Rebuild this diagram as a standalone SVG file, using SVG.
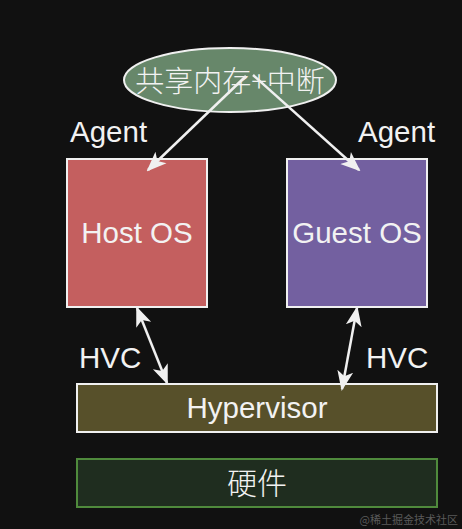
<svg xmlns="http://www.w3.org/2000/svg" width="462" height="529" viewBox="0 0 462 529">
<defs>
<style>
.t{font-family:"Liberation Sans",Arial,"Noto Sans CJK SC",sans-serif;fill:#f2f2f2;font-size:29.5px}
.cjk{font-family:"Noto Sans CJK SC",sans-serif;font-weight:300}
.c{text-anchor:middle}
.box{stroke:#f0f0f0;stroke-width:2}
.ln{stroke:#f0f0f0;stroke-width:2.5;fill:none}
</style>
<marker id="ah2" viewBox="0 0 20 20" refX="18" refY="10" markerWidth="20" markerHeight="20" markerUnits="userSpaceOnUse" orient="auto-start-reverse">
<path d="M0,2 L20,10 L0,18 L5,10 Z" fill="#f0f0f0"/>
</marker>
</defs>
<rect width="462" height="529" fill="#111111"/>
<g id="shared">
<ellipse cx="230" cy="80" rx="106" ry="32" fill="#67876a" stroke="#f0f0f0" stroke-width="2"/>
<text class="t c cjk" x="230" y="92" style="font-size:29px">共享内存+中断</text>
</g>
<g id="host">
<rect class="box" x="67" y="159" width="140" height="148" fill="#c45f5f"/>
<text class="t c" x="137" y="243">Host OS</text>
</g>
<g id="guest">
<rect class="box" x="287" y="159" width="140" height="148" fill="#7360a0"/>
<text class="t c" x="357" y="243">Guest OS</text>
</g>
<g id="hypervisor">
<rect class="box" x="77" y="384" width="360" height="48" fill="#57502a"/>
<text class="t c" x="257" y="418">Hypervisor</text>
</g>
<g id="hardware">
<rect x="77" y="459" width="360" height="48" fill="#1f2d1f" stroke="#4f8a3c" stroke-width="2"/>
<text class="t c cjk" x="257" y="494" style="font-size:30px">硬件</text>
</g>
<g id="labels">
<text class="t" x="70" y="142">Agent</text>
<text class="t" x="358" y="142">Agent</text>
<text class="t" x="79" y="368">HVC</text>
<text class="t" x="366" y="368">HVC</text>
</g>
<g id="connectors">
<line class="ln" x1="246" y1="76" x2="148" y2="170" marker-end="url(#ah2)"/>
<line class="ln" x1="253" y1="75" x2="359" y2="170" marker-end="url(#ah2)"/>
<line class="ln" x1="137" y1="308" x2="167" y2="383" marker-start="url(#ah2)" marker-end="url(#ah2)"/>
<line class="ln" x1="357" y1="308" x2="342" y2="389" marker-start="url(#ah2)" marker-end="url(#ah2)"/>
</g>
<text x="458" y="524" text-anchor="end" style="font-family:'Noto Sans CJK SC',sans-serif;font-size:11px;fill:#5a5a5a">@稀土掘金技术社区</text>
</svg>
